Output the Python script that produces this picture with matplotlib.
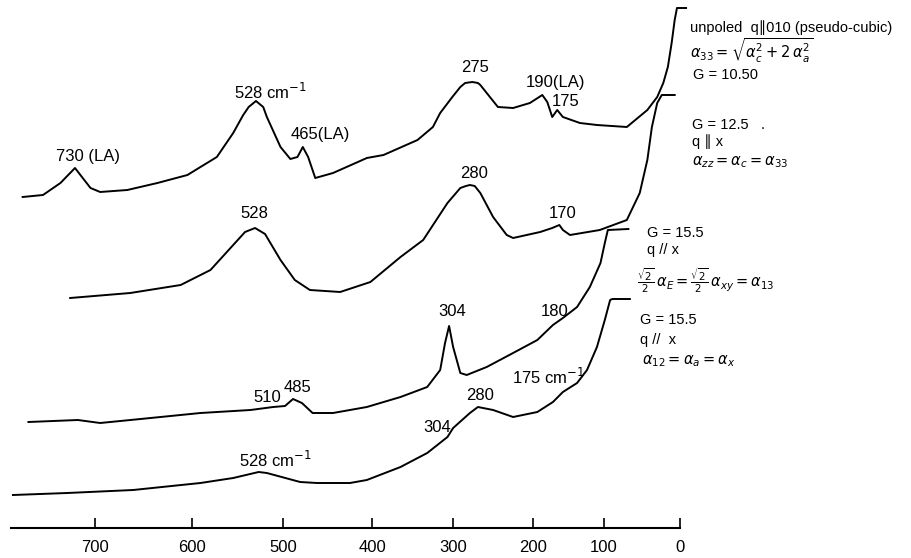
import numpy as np
import matplotlib.pyplot as plt

plt.rcParams['font.family'] = ['Liberation Sans', 'DejaVu Sans']
plt.rcParams['mathtext.fontset'] = 'dejavusans'

# 横轴刻度 (cm-1) 与其在原图上的间距 (原图横轴不是线性的)
tick_vals = [0, 100, 200, 300, 400, 500, 600, 700]
tick_gap = [76, 71, 80, 81, 89, 91, 97]

# 四条光谱: 波数 (cm-1) 和强度 (任意单位, 已含堆叠偏移)
nu_1 = [775, 754, 736, 721, 705, 695, 667, 636, 605, 591, 573, 555, 544, 538, 530, 522, 518, 503,
        492, 484, 478, 472, 464, 444, 406, 386, 344, 325, 316, 301, 291, 285, 276, 269, 266, 254,
        244, 225, 204, 187, 180, 173, 166, 158, 134, 110, 70, 43, 30, 22, 16, 11, 7, 4, -8]
int_1 = [331, 333, 345, 360, 340, 336, 338, 345, 353, 361, 371, 395, 413, 421, 427, 421, 411, 381,
         369, 371, 381, 371, 350, 355, 370, 373, 388, 401, 415, 431, 441, 445, 446, 445, 443, 431,
         421, 420, 425, 433, 426, 411, 418, 411, 405, 403, 401, 418, 431, 445, 461, 485, 508, 520, 520]

nu_2 = [726, 664, 612, 580, 558, 542, 531, 520, 503, 487, 470, 436, 402, 365, 337, 307,
        291, 284, 279, 273, 266, 250, 233, 225, 190, 173, 163, 158, 148, 106, 70, 53, 43, 37, 30, 24, 7]
int_2 = [230, 235, 243, 258, 280, 296, 300, 294, 268, 248, 238, 236, 246, 271, 288, 325,
         340, 342, 343, 342, 335, 311, 293, 290, 296, 300, 303, 298, 293, 298, 308, 335, 368, 401, 425, 433, 433]

nu_3 = [769, 718, 695, 643, 591, 536, 511, 498, 489, 479, 467, 444, 406, 365, 332, 316,
        310, 305, 300, 291, 283, 258, 225, 194, 172, 158, 138, 120, 105, 99, 95, 68]
int_3 = [106, 108, 105, 110, 115, 118, 121, 122, 129, 125, 115, 115, 121, 131, 141, 158,
         185, 202, 181, 155, 153, 161, 175, 188, 203, 210, 221, 241, 265, 285, 298, 299]

nu_4 = [785, 729, 661, 591, 555, 527, 518, 481, 462, 425, 406, 365, 332, 307, 300, 279,
        269, 250, 225, 194, 172, 158, 138, 124, 110, 99, 92, 89, 66]
int_4 = [33, 35, 38, 45, 50, 56, 55, 46, 45, 45, 48, 61, 75, 91, 100, 115,
         121, 118, 111, 116, 126, 136, 145, 158, 181, 208, 228, 229, 229]

# 峰的标注: 文字, 波数, 高度
peak_text = ['730 (LA)', '528 cm$^{-1}$', '465(LA)', '275', '190(LA)', '175',
             '528', '280', '170',
             '510', '485', '304', '180',
             '528 cm$^{-1}$', '304', '280', '175 cm$^{-1}$']
peak_nu = [708, 514, 458, 272, 168, 154,
           532, 274, 158,
           518, 484, 301, 169,
           509, 320, 266, 179]
peak_y = [371, 436, 393, 460, 446, 426,
          315, 355, 315,
          131, 141, 216, 216,
          68, 100, 133, 151]

# 右侧说明文字 (图中像素位置 x, y)
notes = [('unpoled  q\u2225010 (pseudo-cubic)', 690, 28),
         (r'$\alpha_{33} = \sqrt{\alpha_c^2 + 2\,\alpha_a^2}$', 690, 51),
         ('G = 10.50', 693, 75),
         ('G = 12.5   .', 692, 125),
         ('q \u2225 x', 692, 142),
         (r'$\alpha_{zz} = \alpha_c = \alpha_{33}$', 692, 162),
         ('G = 15.5', 647, 233),
         ('q // x', 647, 250),
         (r'$\frac{\sqrt{2}}{2}\,\alpha_E = \frac{\sqrt{2}}{2}\,\alpha_{xy} = \alpha_{13}$', 637, 281),
         ('G = 15.5', 640, 320),
         ('q //  x', 640, 340),
         (r'$\alpha_{12} = \alpha_a = \alpha_x$', 642, 361)]

# 非线性横轴: 用刻度位置做分段线性的映射
pos = np.concatenate([[0], np.cumsum(tick_gap)])
scale_nu = np.concatenate([[-400], tick_vals, [1000]])
scale_pos = np.concatenate([[-400 * 0.76], pos, [pos[-1] + 300 * 0.97]])


def forward(v):
    return np.interp(v, scale_nu, scale_pos)


def inverse(p):
    return np.interp(p, scale_pos, scale_nu)


fig = plt.figure(figsize=(9.11, 5.58), dpi=100)
ax = fig.add_axes([11 / 911, 30 / 558, 669 / 911, 528 / 558])
ax.set_xscale('function', functions=(forward, inverse))

for nu, inten in [(nu_1, int_1), (nu_2, int_2), (nu_3, int_3), (nu_4, int_4)]:
    ax.plot(nu, inten, color='black', lw=1.4, clip_on=False, solid_joinstyle='round')

for s, x, y in zip(peak_text, peak_nu, peak_y):
    ax.text(x, y, s, ha='center', va='center', fontsize=12)

for s, px, py in notes:
    fig.text(px / 911, 1 - py / 558, s, ha='left', va='center', fontsize=10.5)

ax.set_xlim(787, 0)
ax.set_ylim(0, 528)
ax.set_xticks(tick_vals)
ax.tick_params(axis='x', direction='in', length=7, width=1.2, labelsize=12, pad=9)
ax.minorticks_off()
ax.set_yticks([])
for side in ['top', 'right', 'left']:
    ax.spines[side].set_visible(False)
ax.spines['bottom'].set_linewidth(1.5)
ax.patch.set_alpha(0)

fig.savefig('out.png', dpi=100)
